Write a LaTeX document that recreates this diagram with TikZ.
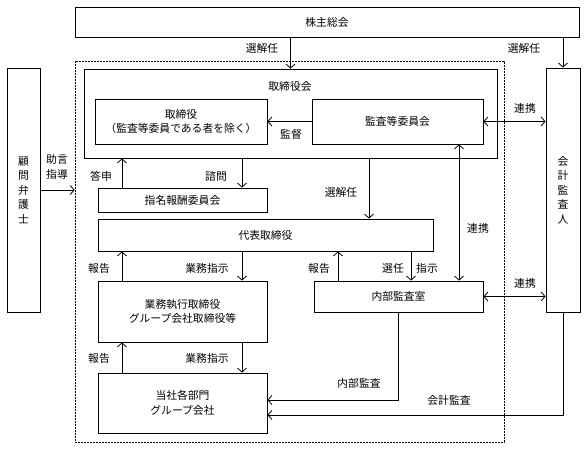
\documentclass[tikz,border=0pt]{standalone}
\usepackage{fontspec}
\setmainfont{Noto Sans CJK JP}
\usepackage{tikz}
\usetikzlibrary{arrows.meta}

\begin{document}
\begin{tikzpicture}[x=1pt,y=-1pt,%
box/.style={draw,line width=0.8pt,inner sep=0pt,align=center,font=\fontsize{10.8pt}{14.5pt}\selectfont},
txt/.style={inner sep=1pt,align=center,font=\fontsize{10.8pt}{14.5pt}\selectfont},
arrow/.style={line width=0.8pt,draw,-{Straight Barb[length=4pt,width=9pt]}},
both/.style={line width=0.8pt,draw,{Straight Barb[length=4pt,width=9pt]}-{Straight Barb[length=4pt,width=9pt]}},
group/.style={draw,line width=0.6pt,dash pattern=on 2pt off 1pt,inner sep=0pt}
]
\useasboundingbox (0,0) rectangle (587,449);
\node[style=group,minimum width=429pt,minimum height=381pt] (group) at (289.5,251.5) {};
\node[style=box,minimum width=504pt,minimum height=30pt] (soukai) at (327,22) {株主総会};
\node[style=box,minimum width=413pt,minimum height=89pt] (board) at (290.5,113.5) {};
\node[style=txt] (board label) at (290,86) {取締役会};
\node[style=box,minimum width=172pt,minimum height=45pt] (tori) at (181,121.5)
  {取締役\\（監査等委員である者を除く）};
\node[style=box,minimum width=171pt,minimum height=45pt] (kansa) at (397.5,121.5) {監査等委員会};
\node[style=box,minimum width=34pt,minimum height=244pt] (audit) at (563,190) {会\\計\\監\\査\\人};
\node[style=box,minimum width=33pt,minimum height=244pt] (lawyer) at (23.5,190) {顧\\問\\弁\\護\\士};
\node[style=box,minimum width=169pt,minimum height=24pt] (shimei) at (182.5,200) {指名報酬委員会};
\node[style=box,minimum width=335pt,minimum height=32pt] (daihyo) at (265.5,235) {代表取締役};
\node[style=box,minimum width=169pt,minimum height=61pt] (gyomu) at (182.5,311.5)
  {業務執行取締役\\グループ会社取締役等};
\node[style=box,minimum width=169pt,minimum height=60pt] (kakubu) at (182.5,403)
  {当社各部門\\グループ会社};
\node[style=box,minimum width=169pt,minimum height=31pt] (naibu) at (398.5,296.5) {内部監査室};
% labels
\node[style=txt] (sen1) at (262,48) {選解任};
\node[style=txt] (sen2) at (524,48) {選解任};
\node[style=txt] (kantoku) at (291,134) {監督};
\node[style=txt] (renkei1) at (525,108) {連携};
\node[style=txt] (jogen) at (57,167) {助言\\指導};
\node[style=txt] (toshin) at (101,176) {答申};
\node[style=txt] (shimon) at (216,176) {諮問};
\node[style=txt] (sen3) at (341,192) {選解任};
\node[style=txt] (renkei2) at (478,228) {連携};
\node[style=txt] (hokoku1) at (99,268) {報告};
\node[style=txt] (shiji1) at (207,268) {業務指示};
\node[style=txt] (hokoku2) at (99,358) {報告};
\node[style=txt] (shiji2) at (207,358) {業務指示};
\node[style=txt] (hokoku3) at (319,268) {報告};
\node[style=txt] (sennin) at (393,268) {選任};
\node[style=txt] (shiji3) at (427,268) {指示};
\node[style=txt] (renkei3) at (525,283) {連携};
\node[style=txt] (naibukansa) at (359,383) {内部監査};
\node[style=txt] (kaikeikansa) at (449,400) {会計監査};
% connectors
\path[style=arrow] (soukai.south -| board.north) -- (board.north);
\path[style=arrow] (soukai.south -| audit.north) -- (audit.north);
\path[style=arrow] (kansa.west) -- (tori.east);
\path[style=both] (kansa.east) -- (kansa.east -| audit.west);
\path[style=arrow] (lawyer.east) -- (lawyer.east -| group.west);
\path[style=arrow] ([xshift=-60.5pt]shimei.north) -- ([xshift=-60.5pt]shimei.north |- board.south);
\path[style=arrow] ([xshift=59.5pt]shimei.north |- board.south) -- ([xshift=59.5pt]shimei.north);
\path[style=arrow] ([xshift=78.5pt]board.south) -- ([xshift=78.5pt]board.south |- daihyo.north);
\path[style=both] ([xshift=61.5pt]kansa.south) -- ([xshift=61.5pt]kansa.south |- naibu.north);
\path[style=arrow] ([xshift=-60.5pt]gyomu.north) -- ([xshift=-60.5pt]gyomu.north |- daihyo.south);
\path[style=arrow] ([xshift=59.5pt]gyomu.north |- daihyo.south) -- ([xshift=59.5pt]gyomu.north);
\path[style=arrow] ([xshift=-60.5pt]kakubu.north) -- ([xshift=-60.5pt]kakubu.north |- gyomu.south);
\path[style=arrow] ([xshift=59.5pt]kakubu.north |- gyomu.south) -- ([xshift=59.5pt]kakubu.north);
\path[style=arrow] ([xshift=-60.5pt]naibu.north) -- ([xshift=-60.5pt]naibu.north |- daihyo.south);
\path[style=arrow] ([xshift=12.5pt]naibu.north |- daihyo.south) -- ([xshift=12.5pt]naibu.north);
\path[style=both] (naibu.east) -- (naibu.east -| audit.west);
\path[style=arrow] (naibu.south) |- ([yshift=3pt]kakubu.east);
\path[style=arrow] (audit.south) |- ([yshift=-12pt]kakubu.east);
\end{tikzpicture}
\end{document}
